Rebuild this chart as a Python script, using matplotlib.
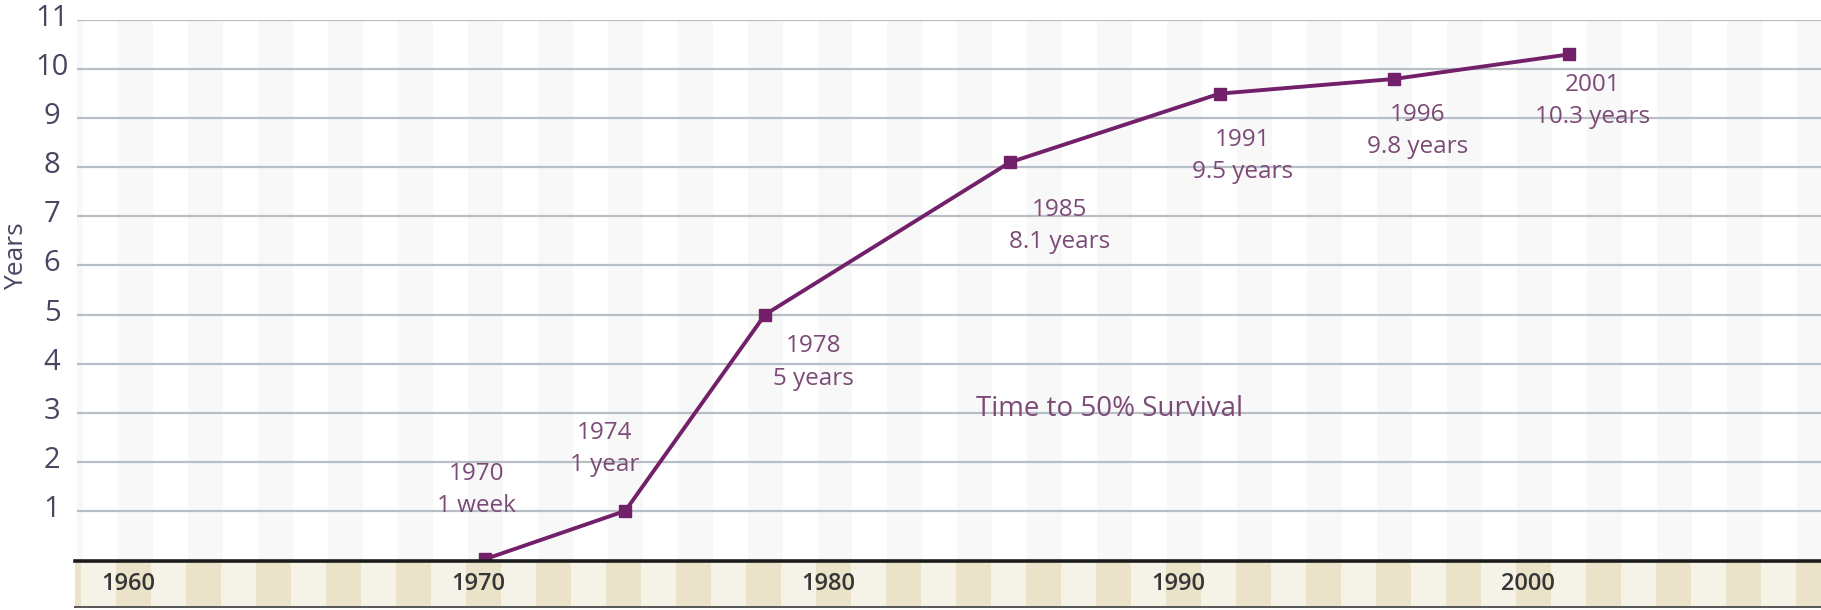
import matplotlib.pyplot as plt
import matplotlib.transforms as mtransforms
from matplotlib.transforms import blended_transform_factory

plt.rcParams['font.family'] = ['Open Sans', 'DejaVu Sans']

# donnees : annee, temps de survie a 50 % (annees)
years = [1970, 1974, 1978, 1985, 1991, 1996, 2001]
survival = [1 / 52, 1, 5, 8.1, 9.5, 9.8, 10.3]
point_labels = ['1970\n1 week', '1974\n1 year', '1978\n5 years', '1985\n8.1 years',
                '1991\n9.5 years', '1996\n9.8 years', '2001\n10.3 years']
decades = [1960, 1970, 1980, 1990, 2000]
y_ticks = list(range(1, 12))

# decalage des etiquettes (pixels) par rapport aux points
label_offsets = [(-9, 69), (-21, 62), (48, -48), (50, -64), (23, -62), (23, -52), (23, -47)]

line_col = '#72206a'
text_col = '#7b4a76'
tick_col = '#4a4560'

W, H = 1821, 610
fig = plt.figure(figsize=(W / 100, H / 100), dpi=100)
ax = fig.add_axes([77 / W, 50 / H, (W - 77) / W, 540 / H])
band = fig.add_axes([75 / W, 3 / H, (W - 75) / W, 46 / H], sharex=ax)

x0, x1 = 1958.32, 2008.2
ax.set_xlim(x0, x1)
ax.set_ylim(0, 11)

# bandes verticales du fond
for yr in range(1958, 2010, 2):
    ax.axvspan(yr - 0.5, yr + 0.5, color='#f8f8f8', lw=0, zorder=0.5)
    band.axvspan(yr - 0.5, yr + 0.5, color='#ebe2ca', lw=0, zorder=0.5)
band.set_facecolor('#f5f2e7')

ax.set_yticks(y_ticks)
ax.set_yticklabels([str(t) for t in y_ticks])
ax.tick_params(axis='y', length=0, pad=18, labelsize=21, labelcolor=tick_col)
ax.tick_params(axis='x', length=0, labelbottom=False)
offset = mtransforms.ScaledTranslation(0, 5 / 100, fig.dpi_scale_trans)
for lab in ax.get_yticklabels():
    lab.set_horizontalalignment('center')
    lab.set_transform(lab.get_transform() + offset)
ax.grid(axis='y', color='#b7bec5', lw=1.6)
for s in ax.spines.values():
    s.set_visible(False)

ax.plot(years, survival, color=line_col, lw=2.8, marker='s', ms=8,
        clip_on=False, zorder=5)

for yr, v, txt, (dx, dy) in zip(years, survival, point_labels, label_offsets):
    ax.annotate(txt, xy=(yr, v), xytext=(dx, dy), textcoords='offset pixels',
                ha='center', va='center', fontsize=17.5, color=text_col,
                linespacing=1.45)

ax.text(0.592, 0.28, 'Time to 50% Survival', transform=ax.transAxes,
        ha='center', va='center', fontsize=20, color=text_col)

fig.text(17 / W, 1 - 256 / H, 'Years', rotation=90, ha='center', va='center',
         fontsize=19, color=tick_col)

# bande des annees en bas
band.set_ylim(0, 1)
band.set_yticks([])
band.tick_params(axis='x', length=0, labelbottom=False)
shift = mtransforms.ScaledTranslation(-6 / 100, 0, fig.dpi_scale_trans)
tr = blended_transform_factory(band.transData, band.transAxes) + shift
for d in decades:
    band.text(d, 0.5, str(d), transform=tr, ha='center', va='center',
              fontsize=17, fontweight='semibold', color='#363636')
band.spines['left'].set_visible(False)
band.spines['right'].set_visible(False)
band.spines['top'].set_linewidth(2.6)
band.spines['top'].set_color('#1c1c1c')
band.spines['bottom'].set_linewidth(1.4)
band.spines['bottom'].set_color('#555555')

fig.savefig('out.png', dpi=100)
